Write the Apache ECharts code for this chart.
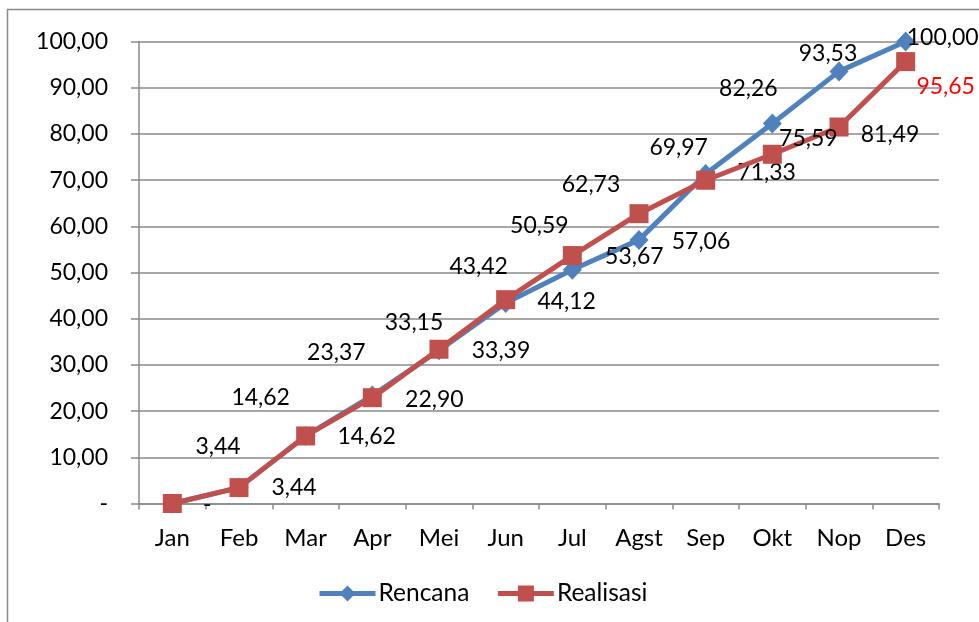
<!DOCTYPE html>
<html>
<head>
<meta charset="utf-8">
<script src="https://cdn.jsdelivr.net/npm/echarts@6/dist/echarts.min.js"></script>
<style>
  html, body { margin: 0; padding: 0; background: #fff; }
  #chart { width: 979px; height: 622px; }
</style>
</head>
<body>
<div id="chart"></div>
<script>
// data
const months = ['Jan', 'Feb', 'Mar', 'Apr', 'Mei', 'Jun', 'Jul', 'Agst', 'Sep', 'Okt', 'Nop', 'Des']
const rencana = [0, 3.44, 14.62, 23.37, 33.15, 43.42, 50.59, 57.06, 71.33, 82.26, 93.53, 100]
const realisasi = [0, 3.44, 14.62, 22.90, 33.39, 44.12, 53.67, 62.73, 69.97, 75.59, 81.49, 95.65]

// label placement (offset of label centre from the point)
const rencanaLabelPos = [null, [-21, -41], [-45, -38], [-36, -43], [-25, -28], [-27, -36], [-33, -44], [62, 2], [61, -1], [-24, -35], [-11, -18], [37, -4]]
const realisasiLabelPos = [[35, 1], [55, 0], [61, 1], [62, 2], [62, 1], [61, 2], [62, 1], [-48, -29], [-27, -33], [36, -16], [51, 8], [40, 25]]

const FONT = 'Lato'
const fmt = v => (v === 0 ? '-' : v.toFixed(2).replace('.', ','))

function buildData(values, offsets, lastColor) {
    return values.map((v, i) => {
        let off = offsets[i]
        let item = { value: v }
        if (!off) {
            item.label = { show: false }
        } else {
            item.label = { show: true, position: 'inside', offset: off }
            if (lastColor && i === values.length - 1) item.label.color = lastColor
        }
        return item
    })
}

let mychart = echarts.init(document.getElementById('chart'))

mychart.setOption({
    animation: false,
    textStyle: { fontFamily: FONT },
    graphic: [{
        type: 'rect',
        shape: { x: 7.5, y: 9.5, width: 1000, height: 700 },
        style: { fill: 'none', stroke: '#8a8a8a', lineWidth: 1.5 },
        silent: true
    }],
    grid: { left: 139, right: 40, top: 41.5, bottom: 118.5 },
    xAxis: {
        type: 'category',
        data: months,
        boundaryGap: true,
        axisLine: { lineStyle: { color: '#8a8a8a', width: 1.5 } },
        axisTick: { show: true, length: 6, lineStyle: { color: '#8a8a8a', width: 1.5 } },
        axisLabel: { color: '#000', fontSize: 24, fontFamily: FONT, margin: 23 }
    },
    yAxis: {
        type: 'value',
        min: 0,
        max: 100,
        interval: 10,
        axisLine: { show: true, lineStyle: { color: '#8a8a8a', width: 1.5 } },
        axisTick: { show: true, length: 8, lineStyle: { color: '#8a8a8a', width: 1.5 } },
        splitLine: { show: true, lineStyle: { color: '#8a8a8a', width: 1.5 } },
        axisLabel: { color: '#000', fontSize: 23, fontFamily: FONT, margin: 31, formatter: fmt }
    },
    legend: {
        left: 312,
        top: 576,
        itemWidth: 56,
        itemHeight: 20,
        itemGap: 26,
        lineStyle: { width: 5 },
        textStyle: { color: '#000', fontSize: 24.5, fontFamily: FONT, padding: [0, 0, 0, -2] },
        data: ['Rencana', 'Realisasi']
    },
    series: [
        {
            name: 'Rencana',
            type: 'line',
            data: buildData(rencana, rencanaLabelPos),
            symbol: 'diamond',
            symbolSize: [19, 20],
            itemStyle: { color: '#4F81BD' },
            lineStyle: { color: '#4F81BD', width: 5 },
            label: { color: '#000', fontSize: 23, fontFamily: FONT, formatter: p => fmt(p.value) },
            z: 2
        },
        {
            name: 'Realisasi',
            type: 'line',
            data: buildData(realisasi, realisasiLabelPos, '#FF0000'),
            symbol: 'rect',
            symbolSize: 19,
            itemStyle: { color: '#C0504D' },
            lineStyle: { color: '#C0504D', width: 5 },
            label: { color: '#000', fontSize: 23, fontFamily: FONT, formatter: p => fmt(p.value) },
            z: 3
        }
    ]
})
</script>
</body>
</html>
